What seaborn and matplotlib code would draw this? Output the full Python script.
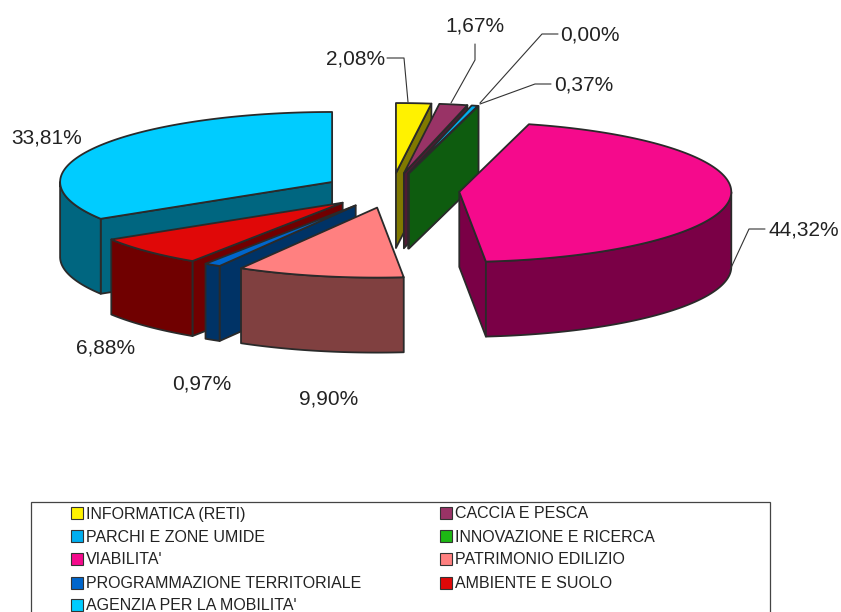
import numpy as np
import seaborn as sns
import matplotlib
matplotlib.use('Agg')
import matplotlib.pyplot as plt
from matplotlib.patches import Polygon, Rectangle

categories = ['INFORMATICA (RETI)', 'CACCIA E PESCA', 'PARCHI E ZONE UMIDE', 'INNOVAZIONE E RICERCA',
              "VIABILITA'", 'PATRIMONIO EDILIZIO', 'PROGRAMMAZIONE TERRITORIALE', 'AMBIENTE E SUOLO',
              "AGENZIA PER LA MOBILITA'"]
values = [2.08, 1.67, 0.37, 0.00, 44.32, 9.90, 0.97, 6.88, 33.81]
value_labels = ['2,08%', '1,67%', '0,37%', '0,00%', '44,32%', '9,90%', '0,97%', '6,88%', '33,81%']
top_colors = ['#FFF200', '#993366', '#00AEEF', '#1DB814', '#F50A8C', '#FF8080', '#0066CC', '#E00808', '#00CCFF']
side_colors = ['#807900', '#4D1A33', '#005F80', '#0E5C0F', '#7A0046', '#804040', '#003366', '#700000', '#006680']

# pie geometry, in pixels of the picture
CX, CY = 391.5, 190.5
RX, RY = 272, 70
DEPTH = 75
EXPLODE = 0.25
EDGE = '#2A2A2A'

# label anchor (x, y, horizontal alignment) and leader line for each slice
label_pos = [(385, 59, 'right'), (475, 26, 'center'), (554, 85, 'left'), (560, 35, 'left'),
             (769, 230, 'left'), (329, 399, 'center'), (202, 384, 'center'), (106, 348, 'center'),
             (11, 138, 'left')]
leaders = [[(387, 58), (404, 58), (408, 102)],
           [(475, 44), (475, 60), (451, 103)],
           [(551, 84), (535, 84), (480, 104)],
           [(558, 34), (542, 34), (480, 103)],
           [(765, 229), (749, 229), (730, 270)],
           None, None, None, None]
# back slices first so the nearer ones cover them
draw_order = [8, 7, 6, 5, 0, 1, 2, 3, 4]

sns.set_theme(style='white')
plt.rcParams['font.family'] = ['Liberation Sans', 'DejaVu Sans']


def rim(apex, angles):
    a = np.radians(angles)
    return np.column_stack([apex[0] + RX * np.sin(a), apex[1] - RY * np.cos(a)])


def draw_slice(ax, i, start, end):
    mid = np.radians((start + end) / 2)
    apex = (CX + EXPLODE * RX * np.sin(mid), CY - EXPLODE * RY * np.cos(mid))
    down = np.array([0, DEPTH])
    style = dict(edgecolor=EDGE, linewidth=1.3, joinstyle='round')

    # radial walls, only the ones turned to the viewer
    for ang, visible in ((start, 180 <= start < 360), (end, 0 < end < 180)):
        if visible:
            p = rim(apex, [ang])[0]
            wall = [apex, p, p + down, np.array(apex) + down]
            ax.add_patch(Polygon(wall, facecolor=side_colors[i], **style))

    # outer wall, front half of the ellipse
    lo, hi = max(start, 90), min(end, 270)
    if hi > lo:
        arc = rim(apex, np.linspace(lo, hi, 80))
        ax.add_patch(Polygon(np.vstack([arc, arc[::-1] + down]), facecolor=side_colors[i], **style))

    # top face
    if end > start:
        arc = rim(apex, np.linspace(start, end, 120))
        ax.add_patch(Polygon(np.vstack([[apex], arc]), facecolor=top_colors[i], **style))


fig = plt.figure(figsize=(8.41, 6.12), dpi=100)
ax = fig.add_axes([0, 0, 1, 1])
ax.set_xlim(0, 841)
ax.set_ylim(612, 0)
ax.axis('off')

edges = np.cumsum([0] + values) / sum(values) * 360
for i in draw_order:
    draw_slice(ax, i, edges[i], edges[i + 1])

for pos, txt, line in zip(label_pos, value_labels, leaders):
    ax.text(pos[0], pos[1], txt, ha=pos[2], va='center', fontsize=15, color='#222222')
    if line:
        xs, ys = zip(*line)
        ax.plot(xs, ys, color='#333333', lw=0.8)

# legend box runs off the bottom of the picture
ax.add_patch(Rectangle((31, 502), 739, 140, facecolor='white', edgecolor='#444444', linewidth=0.9))
row_y = [514, 537, 560, 584, 606]
col_x = [71, 440]
for i, name in enumerate(categories):
    x = col_x[i % 2]
    y = row_y[i // 2]
    ax.add_patch(Rectangle((x, y - 7), 12, 12, facecolor=top_colors[i], edgecolor='#333333', linewidth=0.8))
    ax.text(x + 15, y, name, ha='left', va='center', fontsize=11.55, color='#222222')

fig.savefig('out.png', dpi=100)
